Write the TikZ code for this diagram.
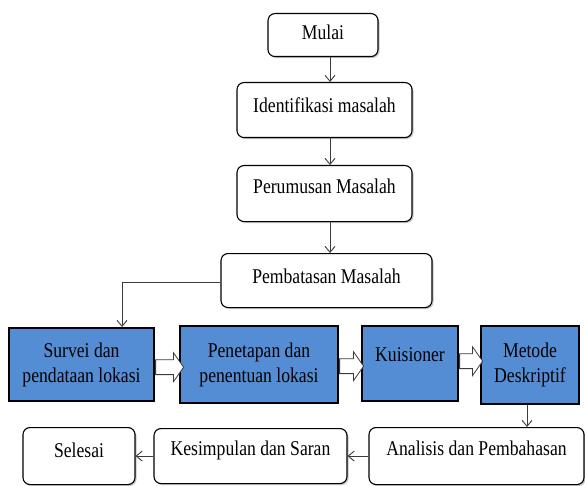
\documentclass[tikz,border=0pt]{standalone}
\usepackage{fontspec}
\setmainfont{Liberation Serif}[FakeStretch=0.84]
\usetikzlibrary{arrows.meta,shapes.arrows,shadows}

\definecolor{birukotak}{RGB}{84,141,212}
\definecolor{garis}{RGB}{60,60,60}

\tikzset{
  proses/.style={draw, rounded corners=7pt, fill=white, line width=1.1pt, inner sep=0pt, anchor=north,
    drop shadow={shadow xshift=1.5pt, shadow yshift=-1.5pt, fill=black!45}},
  kotakbiru/.style={draw, fill=birukotak, line width=2.4pt, inner sep=0pt, anchor=north, align=center},
  panah/.style={draw=garis, line width=0.9pt, -{Straight Barb[length=6pt,width=10pt]}},
  blokpanah/.style={single arrow, draw=garis, fill=white, line width=0.8pt, inner sep=0pt,
    text height=7pt, text depth=7pt, single arrow head extend=7pt, single arrow tip angle=110, anchor=tail}
}

\begin{document}
\begin{tikzpicture}[x=1pt, y=-1pt, font=\fontsize{21}{25}\selectfont]
    \fill[white] (0,0) rectangle (585,486);
    \useasboundingbox (0,0) rectangle (585,486);

    % alur atas
    \node[proses, minimum width=110pt, text height=26pt, text depth=17pt] (mulai) at (323,13) {Mulai};
    \node[proses, minimum width=175pt, text height=30pt, text depth=25pt] (identifikasi) at (324.5,82) {Identifikasi masalah};
    \node[proses, minimum width=175pt, text height=28pt, text depth=28pt] (perumusan) at (324.5,165) {Perumusan Masalah};
    \node[proses, minimum width=211pt, text height=30pt, text depth=24pt] (pembatasan) at (326.5,253) {Pembatasan Masalah};

    % kotak biru
    \node[kotakbiru, minimum width=145pt, minimum height=73pt] (survei) at (81.5,327) {Survei dan\\pendataan lokasi};
    \node[kotakbiru, minimum width=158pt, minimum height=77pt] (penetapan) at (259,325) {Penetapan dan\\penentuan lokasi};
    \node[kotakbiru, minimum width=96pt, text height=35pt, text depth=40pt] (kuisioner) at (410,325) {Kuisioner};
    \node[kotakbiru, minimum width=98pt, minimum height=78pt] (metode) at (530,325) {Metode\\Deskriptif};

    % alur bawah
    \node[proses, minimum width=215pt, text height=28pt, text depth=29pt] (analisis) at (476.5,427) {Analisis dan Pembahasan};
    \node[proses, minimum width=193pt, text height=27pt, text depth=28pt] (kesimpulan) at (250.5,428) {Kesimpulan dan Saran};
    \node[proses, minimum width=112pt, text height=30pt, text depth=27pt] (selesai) at (79,427) {Selesai};

    \draw[panah] ([xshift=7pt]mulai.south) -- ([xshift=7pt]mulai.south |- identifikasi.north);
    \draw[panah] ([xshift=5.5pt]identifikasi.south) -- ([xshift=5.5pt]identifikasi.south |- perumusan.north);
    \draw[panah] ([xshift=5.5pt]perumusan.south) -- ([xshift=5.5pt]perumusan.south |- pembatasan.north);
    \draw[panah] ([yshift=-2pt]pembatasan.west) -| ([xshift=40.5pt]survei.north);

    \node[blokpanah, minimum height=28pt] (panah1) at ([yshift=-2.5pt]survei.east) {};
    \node[blokpanah, minimum height=24pt] (panah2) at ([yshift=-1.5pt]penetapan.east) {};
    \node[blokpanah, minimum height=23pt] (panah3) at ([yshift=2.5pt]kuisioner.east) {};

    \draw[panah] ([xshift=-3pt]metode.south) -- ([xshift=-3pt]metode.south |- analisis.north);
    \draw[panah] (analisis.west) -- (kesimpulan.east);
    \draw[panah] (kesimpulan.west) -- (selesai.east);
\end{tikzpicture}
\end{document}
